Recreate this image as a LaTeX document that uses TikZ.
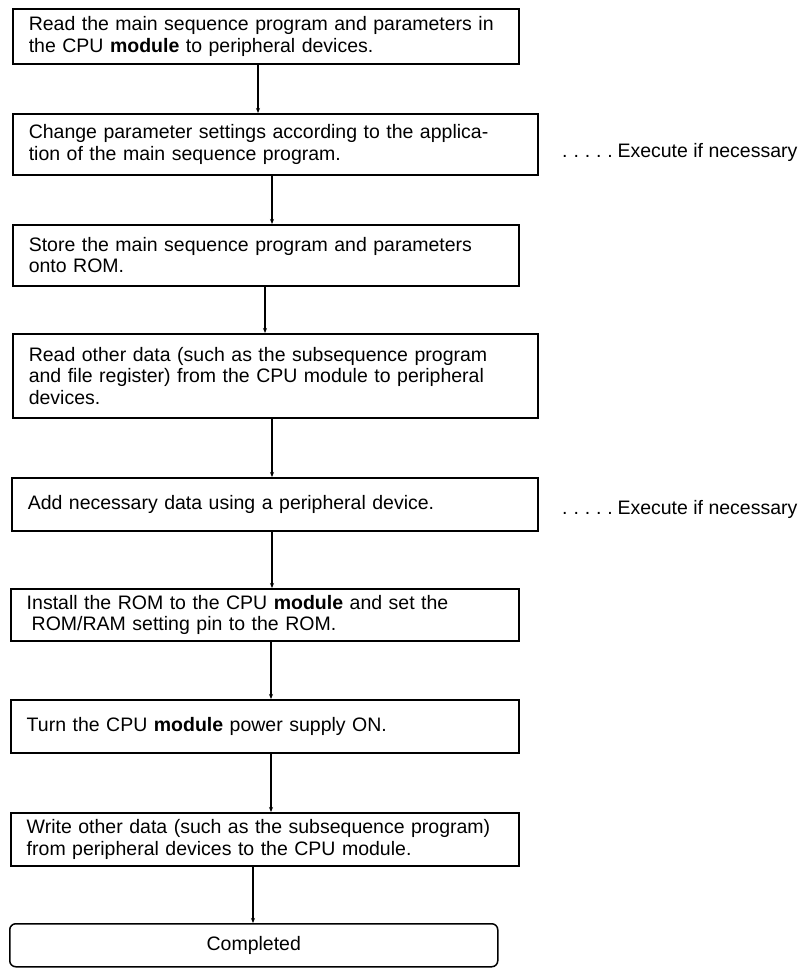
\documentclass[tikz,border=0pt]{standalone}
\usepackage{fontspec}
\setmainfont{Liberation Sans}
\usetikzlibrary{arrows.meta}
\begin{document}
\begin{tikzpicture}[x=1pt,y=-1pt,
  every node/.style={font=\fontsize{19.5}{21.5}\selectfont},
  stepbox/.style={draw, line width=1.5pt, inner xsep=16pt, inner ysep=0pt,
    align=left, anchor=north west},
  endbox/.style={draw, line width=1.5pt, rounded corners=6pt, inner sep=0pt,
    align=center, anchor=north west},
  flow/.style={line width=1.1pt, -{Stealth[length=5pt,width=4pt]}},
  note/.style={inner sep=0pt, anchor=base west}]
\useasboundingbox (0,0) rectangle (809,969);

% procedure steps
\node[stepbox, text width=474pt, minimum height=55pt] (b1) at (12,8)
  {Read the main sequence program and parameters in\\
   the CPU \textbf{module} to peripheral devices.};
\node[stepbox, text width=493pt, minimum height=61pt] (b2) at (12,113)
  {Change parameter settings according to the applica-\\
   tion of the main sequence program.};
\node[stepbox, text width=474pt, minimum height=61pt] (b3) at (12,224)
  {Store the main sequence program and parameters\\
   onto ROM.};
\node[stepbox, text width=493pt, minimum height=84pt] (b4) at (12,333)
  {Read other data (such as the subsequence program\\
   and file register) from the CPU module to peripheral\\
   devices.};
\node[stepbox, text width=494pt, minimum height=53pt] (b5) at (11,477)
  {Add necessary data using a peripheral device.};
\node[stepbox, text width=476pt, minimum height=52pt] (b6) at (10,588)
  {Install the ROM to the CPU \textbf{module} and set the\\
   \hspace*{5pt}ROM/RAM setting pin to the ROM.};
\node[stepbox, text width=476pt, minimum height=53pt] (b7) at (10,699)
  {Turn the CPU \textbf{module} power supply ON.};
\node[stepbox, text width=476pt, minimum height=53pt] (b8) at (10,812)
  {Write other data (such as the subsequence program)\\
   from peripheral devices to the CPU module.};
\node[endbox, minimum width=488pt, minimum height=43pt] (b9) at (9,923)
  {Completed};

% side remarks
\node[note] (n1) at (562,157)
  {.\hspace{5.9pt}.\hspace{5.9pt}.\hspace{5.9pt}.\hspace{5.9pt}.\hspace{4.6pt}Execute if necessary};
\node[note] (n2) at (562,514)
  {.\hspace{5.9pt}.\hspace{5.9pt}.\hspace{5.9pt}.\hspace{5.9pt}.\hspace{4.6pt}Execute if necessary};

% connectors
\coordinate (x1) at (258,0);
\coordinate (x2) at (272,0);
\coordinate (x3) at (265,0);
\coordinate (x4) at (272,0);
\coordinate (x5) at (272,0);
\coordinate (x6) at (271,0);
\coordinate (x7) at (271,0);
\coordinate (x8) at (253,0);
\draw[flow] (b1.south -| x1) -- (b2.north -| x1);
\draw[flow] (b2.south -| x2) -- (b3.north -| x2);
\draw[flow] (b3.south -| x3) -- (b4.north -| x3);
\draw[flow] (b4.south -| x4) -- (b5.north -| x4);
\draw[flow] (b5.south -| x5) -- (b6.north -| x5);
\draw[flow] (b6.south -| x6) -- (b7.north -| x6);
\draw[flow] (b7.south -| x7) -- (b8.north -| x7);
\draw[flow] (b8.south -| x8) -- (b9.north -| x8);
\end{tikzpicture}
\end{document}
